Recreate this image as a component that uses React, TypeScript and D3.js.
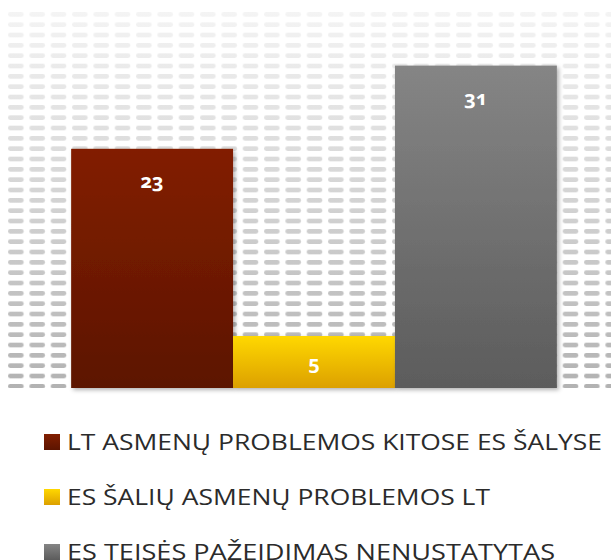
import * as d3 from "d3";

const series = [
  "LT ASMENŲ PROBLEMOS KITOSE ES ŠALYSE",
  "ES ŠALIŲ ASMENŲ PROBLEMOS LT",
  "ES TEISĖS PAŽEIDIMAS NENUSTATYTAS",
];
const values = [23, 5, 31];
const topColors = ["#821f00", "#ffd800", "#858585"];
const bottomColors = ["#5c1400", "#dca000", "#5c5c5c"];
const legendWidths = [535, 423, 488];

export default function App() {
  const width = 611;
  const height = 560;
  const plot = { left: 8, right: 620, top: 12, bottom: 388 };

  const y = d3.scaleLinear().domain([0, 36]).range([plot.bottom, plot.bottom - 36 * 10.4]);
  const group = d3
    .scaleBand<string>()
    .domain(["all"])
    .range([plot.left, plot.right])
    .paddingOuter(0.13);
  const x = d3
    .scaleBand<string>()
    .domain(series)
    .range([group("all") ?? 0, (group("all") ?? 0) + group.bandwidth()])
    .padding(0);

  const legendX = 44;
  const legendTop = 434;
  const legendStep = 55;

  return (
    <svg
      width={width}
      height={height}
      style={{ position: "absolute", left: 0, top: 0, display: "block", background: "#fff" }}
    >
      <defs>
        <pattern
          id="dashes"
          patternUnits="userSpaceOnUse"
          x={plot.left}
          y={plot.top}
          width={64 / 3}
          height={31 / 3}
        >
          <rect x={0} y={0} width={15.7} height={4.6} rx={2.3} fill="#fff" />
        </pattern>
        <mask id="dashMask">
          <rect x={0} y={0} width={width} height={height} fill="url(#dashes)" />
        </mask>
        <linearGradient id="gridShade" x1="0" y1="0" x2="0" y2="1">
          <stop offset="0%" stopColor="#f4f4f4" />
          <stop offset="100%" stopColor="#b2b2b2" />
        </linearGradient>
        {series.map((s, i) => (
          <linearGradient key={s} id={`barGrad${i}`} x1="0" y1="0" x2="0" y2="1">
            <stop offset="0%" stopColor={topColors[i]} />
            <stop offset="100%" stopColor={bottomColors[i]} />
          </linearGradient>
        ))}
        <filter id="barShadow" x="-10%" y="-10%" width="130%" height="130%">
          <feDropShadow dx={2} dy={2} stdDeviation={2} floodColor="#000" floodOpacity={0.3} />
        </filter>
      </defs>

      <rect
        x={plot.left}
        y={plot.top}
        width={plot.right - plot.left}
        height={plot.bottom - plot.top}
        fill="url(#gridShade)"
        mask="url(#dashMask)"
      />

      {series.map((s, i) => (
        <rect
          key={s}
          x={x(s)}
          y={y(values[i])}
          width={x.bandwidth()}
          height={y(0) - y(values[i])}
          fill={`url(#barGrad${i})`}
          filter="url(#barShadow)"
        />
      ))}

      {series.map((s, i) => {
        const top = y(values[i]);
        const labelY = Math.min(top + 39, (top + y(0)) / 2 + 8);
        return (
          <text
            key={`lbl-${s}`}
            x={(x(s) ?? 0) + x.bandwidth() / 2}
            y={labelY}
            textAnchor="middle"
            fill="#fff"
            fontFamily="'Open Sans', sans-serif"
            fontWeight="700"
            fontSize="20"
            style={{ fontVariantNumeric: "oldstyle-nums" }}
          >
            {values[i]}
          </text>
        );
      })}

      {series.map((s, i) => (
        <g key={`leg-${s}`} transform={`translate(${legendX}, ${legendTop + i * legendStep})`}>
          <rect width={16} height={16} fill={`url(#barGrad${i})`} />
          <text
            x={23}
            y={15.5}
            fill="#2b2b2b"
            fontFamily="'Open Sans', sans-serif"
            fontSize="22"
            textLength={legendWidths[i]}
            lengthAdjust="spacingAndGlyphs"
          >
            {s}
          </text>
        </g>
      ))}
    </svg>
  );
}
